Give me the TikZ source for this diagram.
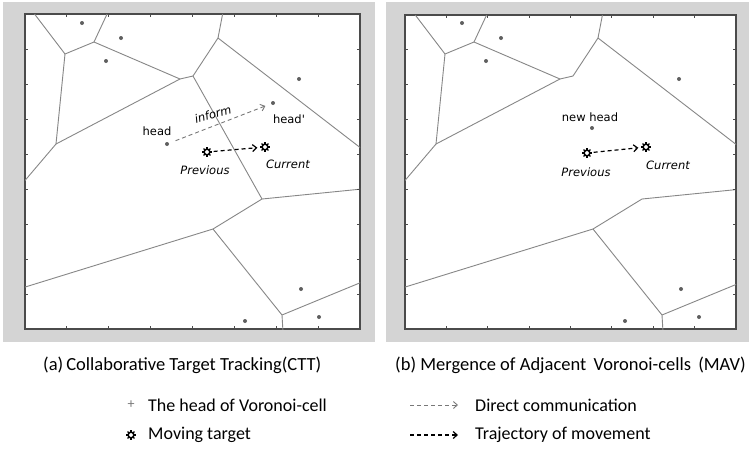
\documentclass[tikz,border=0pt]{standalone}
\usepackage{fontspec}
\setmainfont{Carlito}
\newfontfamily\plotfont{DejaVu Sans}
\usetikzlibrary{arrows.meta}

\definecolor{panelgray}{RGB}{212,212,212}
\definecolor{edgegray}{RGB}{135,135,135}
\definecolor{framegray}{RGB}{75,75,75}
\definecolor{headgray}{RGB}{95,95,95}
\definecolor{commgray}{RGB}{120,120,120}

\tikzset{
  panel/.style={fill=panelgray, draw=none},
  plotframe/.style={draw=framegray, line width=1.4pt, fill=white},
  tick/.style={draw=framegray, line width=0.8pt},
  cell/.style={draw=edgegray, line width=0.9pt},
  headpt/.style={circle, fill=headgray, inner sep=0pt, minimum size=4pt},
  targetpt/.style={circle, draw=black, line width=1.5pt, fill=white, inner sep=0pt, minimum size=5.8pt},
  plotlbl/.style={font=\plotfont\fontsize{11.5}{13}\selectfont, inner sep=0pt},
  plotital/.style={plotlbl, font=\plotfont\fontsize{11.5}{13}\selectfont\itshape},
  caption/.style={font=\fontsize{18.5}{20}\selectfont, inner sep=0pt},
  legendtxt/.style={font=\fontsize{18}{20}\selectfont, inner sep=0pt},
  commarrow/.style={draw=commgray, line width=0.9pt, dash pattern=on 4pt off 3pt,
    -{Straight Barb[length=4pt,width=7pt]}},
  movearrow/.style={draw=black, line width=1.2pt, dash pattern=on 4pt off 3pt,
    -{Straight Barb[length=4pt,width=7pt]}},
  spokes/.pic={
    \foreach \a in {0,45,...,315}
      \draw[black, line width=1.3pt] (\a:2.2) -- (\a:4.8);
  }
}

% tick marks along the four sides of a plot frame
\newcommand{\frameticks}[4]{%
  \foreach \i in {1,...,7}{
    \draw[tick] ({#1+\i*(#3-#1)/8},#2) -- ++(0,3);
    \draw[tick] ({#1+\i*(#3-#1)/8},#4) -- ++(0,-3);
  }
  \foreach \i in {1,...,8}{
    \draw[tick] (#1,{#2+\i*(#4-#2)/9}) -- ++(3,0);
    \draw[tick] (#3,{#2+\i*(#4-#2)/9}) -- ++(-3,0);
  }
}

% Voronoi edges shared by both panels
\newcommand{\sharededges}{%
  \draw[cell] (33,12) -- (65,54) -- (94,42) -- (108,12);
  \draw[cell] (65,54) -- (56,144) -- (22,184);
  \draw[cell] (56,144) -- (180,79) -- (193,76) -- (218,38) -- (223,12);
  \draw[cell] (94,42) -- (180,79);
  \draw[cell] (218,38) -- (362,149);
  \draw[cell] (362,189) -- (262,199) -- (213,229) -- (22,288);
  \draw[cell] (213,229) -- (282,315) -- (283,332);
  \draw[cell] (282,315) -- (362,282);
}

% heads that stay the same in both panels
\newcommand{\sharedheads}[1]{%
  \node[headpt] (#1h1) at (82,23) {};
  \node[headpt] (#1h2) at (121,38) {};
  \node[headpt] (#1h3) at (106,61) {};
  \node[headpt] (#1h4) at (299,79) {};
  \node[headpt] (#1h5) at (301,289) {};
  \node[headpt] (#1h6) at (245,321) {};
  \node[headpt] (#1h7) at (319,317) {};
}

\begin{document}
\begin{tikzpicture}[x=1pt, y=-1pt]
  \useasboundingbox (0,0) rectangle (749,448);
  \fill[white] (0,0) rectangle (749,448);

  % ---------- panel (a) ----------
  \fill[panel] (3,2) rectangle (375,342);
  \draw[plotframe] (25,14) rectangle (360,329);
  \begin{scope}
    \clip (25,14) rectangle (360,329);
    \sharededges
    \draw[cell] (193,76) -- (262,199);
  \end{scope}
  \frameticks{25}{14}{360}{329}
  \sharedheads{a}
  \node[headpt] (ahead) at (167,144) {};
  \node[headpt] (aheadp) at (273,103) {};
  \node[plotlbl] (aheadlbl) at (157,131) {head};
  \node[plotlbl] (aheadplbl) at (289,119) {head'};
  \draw[commarrow, shorten <=7pt, shorten >=6pt] (ahead) -- (aheadp);
  \node[plotital, rotate=16] (ainform) at (213,114) {inform};
  \node[targetpt] (aprev) at (207,152) {};
  \pic at (aprev) {spokes};
  \node[targetpt] (acur) at (265,147) {};
  \pic at (acur) {spokes};
  \draw[movearrow, shorten <=3pt, shorten >=4pt] (aprev) -- (acur);
  \node[plotital] (aprevlbl) at (205,170) {Previous};
  \node[plotital] (acurlbl) at (288,164) {Current};

  % ---------- panel (b) ----------
  \fill[panel] (386,2) rectangle (749,342);
  \draw[plotframe] (405,15) rectangle (736,329);
  \begin{scope}
    \clip (405,15) rectangle (736,329);
    \begin{scope}[xshift=380pt]
      \sharededges
    \end{scope}
  \end{scope}
  \frameticks{405}{15}{736}{329}
  \begin{scope}[xshift=380pt]
    \sharedheads{b}
    \node[headpt] (bnewhead) at (212,128) {};
    \node[plotlbl] (bnewheadlbl) at (210,117) {new head};
    \node[targetpt] (bprev) at (207,153) {};
    \pic at (bprev) {spokes};
    \node[targetpt] (bcur) at (266,147) {};
    \pic at (bcur) {spokes};
    \draw[movearrow, shorten <=3pt, shorten >=4pt] (bprev) -- (bcur);
    \node[plotital] (bprevlbl) at (206,172) {Previous};
    \node[plotital] (bcurlbl) at (288,165) {Current};
  \end{scope}

  % ---------- captions ----------
  \node[caption, anchor=west] (capa) at (43,365) {(a)\,Collaborative Target Tracking(CTT)};
  \node[caption, anchor=west] (capb) at (395,365) {(b) Mergence of Adjacent\, Voronoi-cells\, (MAV)};

  % ---------- legend ----------
  \node[inner sep=0pt, text=commgray, font=\fontsize{14}{14}\selectfont] (lghead) at (131,405) {+};
  \node[legendtxt, anchor=west] (lgheadtxt) at (148,405) {The head of Voronoi-cell};
  \node[targetpt] (lgtarget) at (131,435) {};
  \pic at (lgtarget) {spokes};
  \node[legendtxt, anchor=west] (lgtargettxt) at (148,435) {Moving target};

  \coordinate (lgcommA) at (410,405);
  \coordinate (lgcommB) at (458,405);
  \draw[commarrow] (lgcommA) -- (lgcommB);
  \node[legendtxt, anchor=west] (lgcommtxt) at (475,405) {Direct communication};
  \coordinate (lgmoveA) at (410,435);
  \coordinate (lgmoveB) at (458,435);
  \draw[movearrow] (lgmoveA) -- (lgmoveB);
  \node[legendtxt, anchor=west] (lgmovetxt) at (475,435) {Trajectory of movement};
\end{tikzpicture}
\end{document}
